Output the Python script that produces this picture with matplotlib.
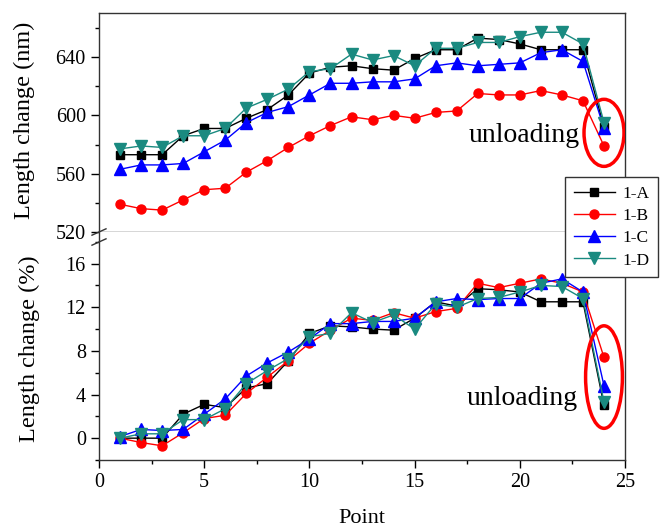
import matplotlib
matplotlib.use("Agg")
import matplotlib.pyplot as plt
from matplotlib.patches import Ellipse
from matplotlib.ticker import MultipleLocator

plt.rcParams["font.family"] = ["Liberation Serif", "DejaVu Serif"]

points = list(range(1, 25))
series_names = ["1-A", "1-B", "1-C", "1-D"]

# length change in nm (upper panel)
nm_a = [573, 573, 573, 586, 591, 591, 598, 604, 614, 629, 633, 634, 632, 631, 639, 645, 645, 653, 652, 649, 645, 645, 645, 592]
nm_b = [539, 536, 535, 542, 549, 550, 561, 569, 578, 586, 593, 599, 597, 600, 598, 602, 603, 615, 614, 614, 617, 614, 610, 579]
nm_c = [563, 566, 566, 567, 575, 583, 595, 602, 606, 614, 622, 622, 623, 623, 625, 634, 636, 634, 635, 636, 643, 645, 637, 591]
nm_d = [577, 579, 578, 586, 586, 591, 605, 611, 618, 630, 632, 642, 638, 641, 634, 646, 646, 650, 650, 654, 657, 657, 649, 595]

# length change in % (lower panel)
pct_a = [0, 0, 0, 2.2, 3.1, 2.8, 4.6, 5.0, 7.1, 9.6, 10.3, 10.2, 10.0, 9.9, 11.0, 12.5, 12.1, 13.7, 13.6, 13.4, 12.5, 12.5, 12.5, 3.0]
pct_b = [0, -0.4, -0.7, 0.5, 1.8, 2.1, 4.1, 5.6, 7.1, 8.7, 9.9, 11.0, 10.8, 11.5, 11.0, 11.6, 11.9, 14.2, 13.8, 14.2, 14.6, 14.2, 13.4, 7.4]
pct_c = [0.15, 0.8, 0.7, 0.8, 2.2, 3.6, 5.7, 6.9, 7.9, 9.1, 10.5, 10.5, 10.7, 10.7, 11.0, 12.5, 12.8, 12.7, 12.8, 12.8, 14.2, 14.6, 13.4, 4.8]
pct_d = [0, 0.4, 0.4, 1.7, 1.7, 2.7, 5.0, 6.2, 7.3, 9.3, 9.6, 11.5, 10.6, 11.3, 10.0, 12.3, 12.0, 12.8, 12.9, 13.4, 14.0, 13.9, 12.8, 3.3]

colors = ["black", "#ff0000", "#0000ff", "#1a8a80"]
markers = ["s", "o", "^", "v"]
msizes = [6, 6.5, 8, 8]

fig = plt.figure(figsize=(6.61, 5.30), dpi=100)
ax1 = fig.add_axes([0.1498, 0.5623, 0.7958, 0.4126])
ax2 = fig.add_axes([0.1498, 0.1321, 0.7958, 0.4302])

for ax, data in [(ax1, [nm_a, nm_b, nm_c, nm_d]), (ax2, [pct_a, pct_b, pct_c, pct_d])]:
    for vals, name, c, m, ms in zip(data, series_names, colors, markers, msizes):
        ax.plot(points, vals, color=c, marker=m, markersize=ms, lw=1, label=name)
    ax.set_xlim(0, 25)
    ax.tick_params(axis="both", which="major", direction="out", length=6, width=1, labelsize=14.5)
    ax.tick_params(axis="both", which="minor", direction="out", length=3, width=1)
    ax.tick_params(right=False, top=False, which="both")
    for s in ax.spines.values():
        s.set_linewidth(1)
        s.set_color("#333333")

# upper panel
ax1.set_ylim(520, 670)
ax1.yaxis.set_major_locator(MultipleLocator(40))
ax1.yaxis.set_minor_locator(MultipleLocator(20))
ax1.tick_params(axis="x", which="both", bottom=False, labelbottom=False)
ax1.set_ylabel("Length change (nm)", fontsize=17.5)
ax1.yaxis.set_label_coords(-0.122, 0.51)
ax1.add_patch(Ellipse((24, 588), 1.9, 46, fill=False, edgecolor="#ff0000", lw=2.5, zorder=5))
ax1.text(22.85, 586, "unloading", fontsize=20, ha="right", va="center")

# lower panel
ax2.set_ylim(-2, 18.9)
ax2.yaxis.set_major_locator(MultipleLocator(4))
ax2.yaxis.set_minor_locator(MultipleLocator(2))
ax2.xaxis.set_major_locator(MultipleLocator(5))
ax2.xaxis.set_minor_locator(MultipleLocator(2.5))
ax2.spines["top"].set_visible(False)
ax2.set_ylabel("Length change (%)", fontsize=17.5)
ax2.yaxis.set_label_coords(-0.112, 0.49)
ax2.set_xlabel("Point", fontsize=16, labelpad=12)
ax2.add_patch(Ellipse((24, 5.6), 1.75, 9.4, fill=False, edgecolor="#ff0000", lw=2.5, zorder=5))
ax2.text(22.77, 3.6, "unloading", fontsize=20, ha="right", va="center")

# axis break marks
for y in [232, 242]:
    yf = 1 - y / 530
    fig.add_artist(plt.Line2D([92 / 661, 106 / 661], [yf - 0.006, yf + 0.006], color="#333333", lw=1))

handles, labels = ax1.get_legend_handles_labels()
fig.legend(handles, labels, loc="upper right", bbox_to_anchor=(658 / 661, 1 - 177 / 530),
           borderaxespad=0, fontsize=12.5, frameon=True, fancybox=False, framealpha=1,
           edgecolor="#333333", handlelength=2.4, labelspacing=0.35, borderpad=0.5,
           handletextpad=0.4)

fig.savefig("out.png", dpi=100)
